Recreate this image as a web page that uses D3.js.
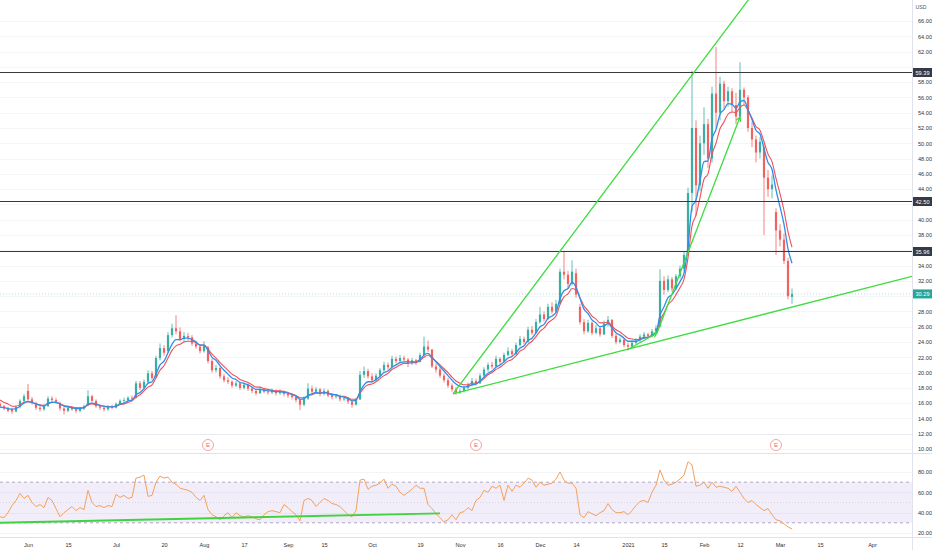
<!DOCTYPE html>
<html><head><meta charset="utf-8">
<script src="https://cdn.jsdelivr.net/npm/d3@7"></script>
<style>body{margin:0;background:#fff;} svg{display:block;font-family:"Liberation Sans",Arial,sans-serif;}</style>
</head><body><svg id="c" width="932" height="550"></svg>
<script>
// ---- data (daily candles, index 0 = 1 Jun 2020, first candle index -7) ----
const firstIndex = -7;
const opens = [
15.9,15.6,15.3,15.1,14.9,15.5,16.3,17.6,16.5,16.0,
15.4,15.2,15.6,16.6,16.4,16.0,15.3,15.0,15.4,15.2,
15.0,15.3,15.7,16.9,16.3,15.6,15.4,15.2,15.5,15.4,
15.9,16.3,16.4,16.7,16.7,18.6,18.0,18.8,19.9,19.4,
21.9,23.2,22.8,24.9,25.8,25.4,24.4,24.8,24.6,23.8,
23.4,22.8,23.3,21.5,20.3,20.6,19.5,19.0,18.8,18.3,
18.6,18.0,18.4,17.9,17.6,17.3,17.8,17.5,17.4,17.6,
17.3,17.5,17.2,17.0,16.8,16.4,15.8,16.6,17.9,17.5,
17.8,17.2,17.6,17.0,16.8,16.9,16.5,16.6,16.2,15.8,
16.5,19.7,20.2,19.5,19.0,19.6,20.3,21.0,20.7,21.8,
21.5,21.9,21.7,21.2,21.6,21.4,22.3,23.4,23.0,20.8,
20.4,19.6,19.0,18.3,17.8,17.4,17.6,18.0,18.4,18.9,
18.6,19.6,20.4,21.0,20.8,21.8,21.4,22.3,22.8,22.4,
23.6,24.4,24.0,25.6,25.2,26.6,27.6,27.0,28.6,28.0,
29.0,33.2,32.8,31.6,33.0,28.6,26.6,25.4,26.5,25.2,
25.8,25.0,26.4,26.9,24.8,24.0,24.3,23.6,23.4,23.9,
24.2,24.7,25.0,24.8,25.4,26.0,32.0,30.8,32.2,31.0,
32.6,33.6,35.6,43.5,52.0,44.5,50.0,52.5,48.0,56.5,
54.0,57.8,55.5,56.8,55.0,53.5,57.0,56.0,52.0,50.5,
48.8,49.5,45.5,44.0,41.0,38.6,37.4,34.6,29.9];
const highs = [
16.1,15.8,15.5,15.4,15.7,16.5,17.2,18.5,16.8,16.2,
15.6,15.9,16.9,16.9,16.7,16.2,15.5,15.7,15.6,15.4,
15.5,15.8,17.7,17.1,16.5,15.8,15.6,15.7,15.8,16.1,
16.5,16.7,16.9,17.0,18.9,18.9,19.1,20.3,20.2,22.2,
23.8,23.6,25.3,26.4,27.5,25.9,25.3,25.2,24.9,24.2,
23.7,24.1,23.5,21.8,21.0,20.8,19.8,19.4,19.0,18.9,
18.8,18.7,18.6,18.1,17.8,18.1,18.0,17.8,17.9,17.8,
17.8,17.7,17.4,17.3,17.0,16.6,16.9,18.6,18.3,18.1,
18.0,17.9,17.8,17.3,17.2,17.1,16.9,16.8,16.4,16.7,
20.2,20.8,20.5,19.9,19.9,20.6,21.4,21.3,22.2,22.1,
22.3,22.2,21.9,21.9,21.8,22.6,24.7,24.2,23.1,21.2,
20.7,19.9,19.3,18.6,18.1,17.9,18.3,18.7,19.3,19.2,
19.9,20.7,21.3,21.4,22.2,22.0,22.6,23.3,23.1,23.9,
24.8,24.7,26.0,26.1,27.0,28.6,28.0,29.0,29.2,29.5,
33.6,35.8,33.3,34.7,33.6,29.0,27.0,26.9,26.7,26.2,
26.0,26.8,27.4,27.0,25.1,24.6,24.5,23.9,24.2,24.5,
25.0,25.3,25.2,25.7,26.2,33.5,32.6,32.7,32.5,32.9,
34.0,35.9,44.2,59.5,53.0,51.0,54.7,53.2,57.4,62.6,
58.7,58.2,57.4,57.2,56.6,60.6,57.3,56.3,52.8,51.0,
50.8,50.0,46.5,45.8,41.5,39.4,38.2,35.0,31.0];
const lows = [
15.4,15.1,14.8,14.6,14.8,15.3,16.1,16.3,15.8,15.1,
14.9,15.0,15.5,16.1,15.9,15.0,14.5,14.8,15.0,14.7,
14.8,15.1,15.6,16.1,15.4,15.1,14.9,15.0,15.2,15.3,
15.8,16.0,16.2,16.3,16.6,17.7,17.8,18.6,19.0,19.3,
21.6,22.2,22.6,24.6,25.0,24.1,24.0,24.2,23.5,23.1,
22.5,22.6,21.2,20.0,20.0,19.2,18.7,18.5,18.0,18.1,
17.7,17.8,17.6,17.3,17.0,17.2,17.3,17.1,17.2,17.0,
17.1,16.9,16.7,16.5,16.1,15.1,15.6,16.4,17.2,17.3,
16.9,17.0,16.8,16.5,16.6,16.2,16.3,15.9,15.4,15.7,
16.4,19.3,19.2,18.7,18.8,19.4,20.1,20.4,20.6,21.2,
21.3,21.4,20.7,21.0,21.0,21.3,22.1,22.7,20.6,20.0,
19.3,18.7,18.0,17.5,17.1,17.2,17.4,17.8,18.2,18.3,
18.5,19.4,20.1,20.5,20.7,21.0,21.3,22.1,22.1,22.3,
23.4,23.7,23.9,24.9,25.1,26.4,26.7,26.9,27.7,27.8,
28.9,32.2,31.0,31.4,29.8,26.3,25.0,25.2,24.9,25.0,
24.7,24.9,26.0,24.5,23.7,23.8,23.3,22.9,23.2,23.7,
24.0,24.4,24.5,24.6,25.2,25.9,30.2,30.5,30.6,30.8,
32.3,33.3,35.4,41.0,40.5,43.8,48.5,46.8,47.5,52.0,
53.0,54.5,54.8,54.0,52.5,53.0,55.0,51.5,49.5,47.5,
48.0,38.0,43.0,42.8,35.4,36.5,34.2,29.6,29.0];
const closes = [
15.6,15.3,15.0,14.9,15.5,16.3,16.9,16.5,16.0,15.4,
15.2,15.6,16.6,16.4,16.2,15.3,15.0,15.4,15.2,15.0,
15.3,15.6,16.9,16.3,15.6,15.4,15.2,15.5,15.4,15.9,
16.3,16.4,16.7,16.6,18.6,18.0,18.8,19.9,19.3,21.9,
23.2,22.6,24.9,25.8,25.4,24.4,24.8,24.6,23.8,23.4,
22.8,23.6,21.5,20.3,20.6,19.5,19.0,18.8,18.3,18.6,
18.0,18.4,17.9,17.6,17.3,17.8,17.5,17.4,17.6,17.3,
17.5,17.2,17.0,16.8,16.4,15.8,16.6,17.9,17.5,17.8,
17.2,17.6,17.0,16.8,16.9,16.5,16.6,16.2,15.8,16.5,
19.7,20.2,19.5,19.0,19.6,20.3,21.0,20.7,21.8,21.5,
21.9,21.7,21.2,21.6,21.4,22.3,23.4,23.0,20.8,20.4,
19.6,19.0,18.3,17.8,17.4,17.6,18.0,18.4,18.9,18.6,
19.6,20.4,21.0,20.8,21.8,21.4,22.3,22.8,22.4,23.6,
24.4,24.0,25.6,25.2,26.6,27.6,27.0,28.6,28.0,29.0,
33.2,32.8,31.6,33.2,30.2,26.6,25.4,26.5,25.2,25.8,
25.0,26.4,26.9,24.8,24.0,24.3,23.6,23.4,23.9,24.2,
24.7,25.0,24.8,25.4,25.8,32.0,30.8,32.2,31.0,32.6,
33.6,35.4,43.5,52.0,44.5,50.0,52.5,48.0,56.5,54.0,
57.8,55.5,56.8,55.0,53.5,57.0,56.0,52.0,50.5,48.8,
50.2,45.5,44.0,44.6,38.6,37.4,34.6,30.0,30.29];
// fast (blue) and slow (red) moving-average lines
const fastMA = [
15.5,15.4,15.3,15.2,15.3,15.6,16.0,16.2,16.1,15.9,
15.7,15.6,16.0,16.1,16.1,15.9,15.6,15.5,15.4,15.3,
15.3,15.4,15.9,16.0,15.9,15.7,15.6,15.5,15.5,15.6,
15.9,16.0,16.3,16.4,17.1,17.4,17.9,18.6,18.8,19.8,
21.0,21.5,22.6,23.7,24.3,24.3,24.5,24.5,24.3,24.0,
23.6,23.6,22.9,22.0,21.6,20.9,20.3,19.8,19.3,19.1,
18.7,18.6,18.4,18.1,17.8,17.8,17.7,17.6,17.6,17.5,
17.5,17.4,17.3,17.1,16.9,16.5,16.6,17.0,17.2,17.4,
17.3,17.4,17.3,17.1,17.1,16.9,16.8,16.6,16.3,16.4,
17.5,18.4,18.8,18.8,19.1,19.5,20.0,20.2,20.7,21.0,
21.3,21.4,21.4,21.4,21.4,21.7,22.3,22.5,22.0,21.4,
20.8,20.2,19.6,19.0,18.5,18.2,18.1,18.2,18.4,18.5,
18.9,19.4,19.9,20.2,20.7,21.0,21.4,21.9,22.1,22.6,
23.2,23.5,24.2,24.5,25.2,26.0,26.3,27.1,27.4,27.9,
29.7,30.7,31.0,31.8,31.2,29.7,28.3,27.7,26.9,26.5,
26.0,26.1,26.4,25.9,25.2,24.9,24.5,24.1,24.1,24.1,
24.3,24.5,24.6,24.9,25.2,27.5,28.6,29.8,30.2,31.0,
31.9,33.0,36.5,41.7,42.6,45.1,47.6,47.7,50.6,51.8,
53.8,54.4,55.2,55.1,54.6,55.4,55.6,54.4,53.1,51.7,
51.2,49.3,47.5,46.6,43.9,41.7,39.4,36.2,34.3];
const slowMA = [
16.4,16.1,15.9,15.6,15.6,15.8,16.1,16.2,16.1,15.9,
15.8,15.7,15.9,16.1,16.1,15.9,15.7,15.6,15.5,15.4,
15.4,15.4,15.8,15.9,15.8,15.7,15.6,15.6,15.5,15.6,
15.8,15.9,16.1,16.3,16.8,17.1,17.6,18.1,18.4,19.3,
20.3,20.9,21.9,22.9,23.5,23.7,24.0,24.1,24.1,23.9,
23.6,23.6,23.1,22.4,21.9,21.3,20.8,20.3,19.8,19.5,
19.1,18.9,18.7,18.4,18.1,18.1,17.9,17.8,17.7,17.6,
17.6,17.5,17.4,17.2,17.0,16.7,16.7,17.0,17.1,17.3,
17.3,17.4,17.3,17.2,17.1,16.9,16.9,16.7,16.5,16.5,
17.3,18.0,18.4,18.5,18.8,19.2,19.6,19.9,20.4,20.7,
21.0,21.2,21.2,21.3,21.3,21.6,22.0,22.3,21.9,21.5,
21.0,20.5,20.0,19.4,18.9,18.6,18.4,18.4,18.6,18.6,
18.8,19.2,19.7,20.0,20.4,20.7,21.1,21.5,21.7,22.2,
22.8,23.1,23.7,24.1,24.7,25.4,25.8,26.5,26.9,27.4,
28.9,29.9,30.3,31.0,30.8,29.8,28.7,28.1,27.4,27.0,
26.5,26.5,26.6,26.1,25.6,25.3,24.9,24.5,24.4,24.3,
24.4,24.6,24.6,24.8,25.1,26.8,27.8,28.9,29.4,30.2,
31.1,32.2,35.0,39.2,40.6,42.9,45.3,46.0,48.6,50.0,
51.9,52.8,53.8,54.1,54.0,54.7,55.0,54.3,53.3,52.2,
51.7,50.2,48.6,47.6,45.4,43.4,41.2,38.4,36.4];
const rsi = [
36,35,40,47,52,59,54,57,50,46,
48,45,55,52,44,36,40,43,46,42,
45,43,62,50,46,47,45,47,46,58,
55,57,54,55,74,75,77,56,57,70,
76,74,75,70,68,64,63,62,60,55,
52,57,43,38,36,33,37,40,35,40,
37,36,37,36,34,33,38,41,42,41,
40,48,45,41,38,32,52,54,52,46,
50,54,52,49,48,46,42,38,36,42,
72,73,63,66,67,69,73,64,68,66,
60,57,60,63,67,64,64,48,44,39,
35,31,33,38,33,40,41,45,42,52,
55,62,60,66,64,67,52,67,61,67,
65,69,74,72,65,70,67,68,69,73,
80,72,69,69,64,38,35,41,39,37,
40,42,49,43,40,40,41,38,42,47,
51,52,50,60,67,82,72,67,68,70,
73,77,90,87,66,67,70,64,70,65,
66,65,64,61,66,60,54,50,52,48,
45,42,44,38,33,32,29,26,24];
const priceTicks = [10,12,14,16,18,20,22,24,26,28,30,32,34,36,38,40,42,44,46,48,50,52,54,56,58,60,62,64,66];
const rsiTicks = [20,40,60,80];
const timeTickIdx = [0,10,22,34,44,54,65,74,86,98,108,118,128,137,150,159,169,178,188,198,211];
const timeTickLabels = ["Jun","15","Jul","20","Aug","17","Sep","15","Oct","19","Nov","16","Dec","14","2021","15","Feb","12","Mar","15","Apr"];
const levels = [59.39, 42.50, 35.96];
const lastPrice = 30.29;
const earningsIdx = [45, 112, 187];
const trendUpper = [[106.25,17.2],[186,72.9]];
const trendLower = [[106.25,17.2],[221,32.6]];
const trendSteep = [[149.75,22.95],[157.25,25.18],[178,53.44]];
const rsiTrend = [[-7,30.1],[103,39.4]];

// ---- drawing ----
const svg = d3.select("#c");
const paneR = 912, mainBottom = 453, rsiBottom = 537;
const x = d3.scaleLinear().domain([0,211]).range([28,872]);
const y = d3.scaleLinear().domain([10,66]).range([449,21]);
const yr = d3.scaleLinear().domain([20,80]).range([533,472]);
const candles = closes.map((c,k)=>({i:k+firstIndex,o:opens[k],h:highs[k],l:lows[k],c:c}));

const defs = svg.append("defs");
defs.append("clipPath").attr("id","cm").append("rect").attr("x",0).attr("y",0).attr("width",paneR).attr("height",mainBottom);
defs.append("clipPath").attr("id","cr").append("rect").attr("x",0).attr("y",mainBottom).attr("width",paneR).attr("height",rsiBottom-mainBottom);

// grid
const grid = svg.append("g");
grid.selectAll("line.h").data(priceTicks).join("line")
  .attr("x1",0).attr("x2",paneR).attr("y1",d=>Math.round(y(d))+0.5).attr("y2",d=>Math.round(y(d))+0.5)
  .attr("stroke","#f4f5f8").attr("stroke-width",1);
grid.selectAll("line.r").data(rsiTicks).join("line")
  .attr("x1",0).attr("x2",paneR).attr("y1",d=>Math.round(yr(d))+0.5).attr("y2",d=>Math.round(yr(d))+0.5)
  .attr("stroke","#f3f4f7");
svg.append("line").attr("x1",0).attr("x2",paneR).attr("y1",Math.round(y(12))+0.5).attr("y2",Math.round(y(12))+0.5).attr("stroke","#e8eaef");

// pane borders
svg.append("line").attr("x1",0).attr("x2",932).attr("y1",mainBottom+0.5).attr("y2",mainBottom+0.5).attr("stroke","#e0e3eb");
svg.append("line").attr("x1",0).attr("x2",932).attr("y1",rsiBottom+0.5).attr("y2",rsiBottom+0.5).attr("stroke","#e0e3eb");
svg.append("line").attr("x1",paneR+0.5).attr("x2",paneR+0.5).attr("y1",0).attr("y2",550).attr("stroke","#e0e3eb");

const main = svg.append("g").attr("clip-path","url(#cm)");
// last price line
main.append("line").attr("x1",0).attr("x2",paneR).attr("y1",y(lastPrice)).attr("y2",y(lastPrice))
  .attr("stroke","#26a69a").attr("stroke-opacity",0.35).attr("stroke-dasharray","1,2");

// candles
const bw = 2.2;
const cg = main.append("g").attr("opacity",0.9);
cg.selectAll("line").data(candles).join("line")
  .attr("x1",d=>x(d.i)).attr("x2",d=>x(d.i)).attr("y1",d=>y(d.h)).attr("y2",d=>y(d.l))
  .attr("stroke",d=>d.c>=d.o?"#26a69a":"#ef5350").attr("stroke-width",0.8);
cg.selectAll("rect").data(candles).join("rect")
  .attr("x",d=>x(d.i)-bw/2).attr("width",bw)
  .attr("y",d=>y(Math.max(d.o,d.c))).attr("height",d=>Math.max(0.8,Math.abs(y(d.o)-y(d.c))))
  .attr("fill",d=>d.c>=d.o?"#26a69a":"#ef5350");

// moving averages
const maLine = (arr)=>d3.line().x((d,k)=>x(k+firstIndex)).y(d=>y(d)).curve(d3.curveMonotoneX)(arr);
main.append("path").attr("d",maLine(slowMA)).attr("fill","none").attr("stroke","#f0505a").attr("stroke-width",1.1);
main.append("path").attr("d",maLine(fastMA)).attr("fill","none").attr("stroke","#2f8ee8").attr("stroke-width",1.3);

// horizontal levels
main.selectAll("line.lv").data(levels).join("line")
  .attr("x1",0).attr("x2",paneR).attr("y1",d=>Math.round(y(d))+0.5).attr("y2",d=>Math.round(y(d))+0.5)
  .attr("stroke","#3a3a3a").attr("stroke-width",1);

// trend lines
const tl = d3.line().x(d=>x(d[0])).y(d=>y(d[1]));
[trendUpper,trendLower,trendSteep].forEach(t=>{
  main.append("path").attr("d",tl(t)).attr("fill","none").attr("stroke","#3fdc3f").attr("stroke-width",1.3);
});
// small arrow-head markers on the steep path (at its bend and its end)
[[trendSteep[0],trendSteep[1]],[trendSteep[1],trendSteep[2]]].forEach(([a,b])=>{
  const bx=x(b[0]), by=y(b[1]);
  const ang=Math.atan2(by-y(a[1]), bx-x(a[0]));
  const L=5, sp=0.5;
  const p1=[bx-L*Math.cos(ang-sp), by-L*Math.sin(ang-sp)];
  const p2=[bx-L*Math.cos(ang+sp), by-L*Math.sin(ang+sp)];
  main.append("path").attr("d",`M${p1[0]},${p1[1]}L${bx},${by}L${p2[0]},${p2[1]}`)
    .attr("fill","none").attr("stroke","#3fdc3f").attr("stroke-width",1.2);
});

// earnings markers
const eg = svg.append("g");
earningsIdx.forEach(i=>{
  eg.append("circle").attr("cx",x(i)).attr("cy",445).attr("r",5.5).attr("fill","#fff").attr("stroke","#f29a9a").attr("stroke-width",0.9);
  eg.append("text").attr("x",x(i)).attr("y",447.2).attr("text-anchor","middle").attr("font-size",6).attr("fill","#e86a6a").text("E");
});

// RSI pane
const rp = svg.append("g").attr("clip-path","url(#cr)");
rp.append("rect").attr("x",0).attr("width",paneR).attr("y",yr(70)).attr("height",yr(30)-yr(70)).attr("fill","#7e57c2").attr("fill-opacity",0.1);
[70,30].forEach(v=>{
  rp.append("line").attr("x1",0).attr("x2",paneR).attr("y1",yr(v)).attr("y2",yr(v))
    .attr("stroke","#9d93b5").attr("stroke-width",0.8).attr("stroke-dasharray","3,3");
});
rp.append("line").attr("x1",0).attr("x2",paneR).attr("y1",yr(50)).attr("y2",yr(50))
  .attr("stroke","#c9c2da").attr("stroke-width",0.6).attr("stroke-dasharray","1,2");
rp.append("path").attr("d",d3.line().x((d,k)=>x(k+firstIndex)).y(d=>yr(d))(rsi))
  .attr("fill","none").attr("stroke","#f5a05c").attr("stroke-width",1);
rp.append("path").attr("d",d3.line().x(d=>x(d[0])).y(d=>yr(d[1]))(rsiTrend))
  .attr("fill","none").attr("stroke","#3fd33f").attr("stroke-width",1.8);

// axes (tick labels hidden where a price label box covers them, as in the reference)
const covered = v => levels.concat([lastPrice]).some(l => Math.abs(y(l)-y(v)) < 8);
const ya = svg.append("g").attr("transform",`translate(${paneR+3},0)`)
  .call(d3.axisRight(y).tickValues(priceTicks.filter(v=>!covered(v))).tickFormat(d3.format(".2f")).tickSize(0));
ya.select(".domain").remove();
ya.selectAll("text").attr("font-size",5.6).attr("fill","#333").attr("font-family","Liberation Sans, Arial");
const ra = svg.append("g").attr("transform",`translate(${paneR+3},0)`)
  .call(d3.axisRight(yr).tickValues(rsiTicks).tickFormat(d3.format(".2f")).tickSize(0));
ra.select(".domain").remove();
ra.selectAll("text").attr("font-size",5.6).attr("fill","#333").attr("font-family","Liberation Sans, Arial");
const xa = svg.append("g").attr("transform",`translate(0,${rsiBottom+3})`)
  .call(d3.axisBottom(x).tickValues(timeTickIdx).tickFormat((d,k)=>timeTickLabels[k]).tickSize(0));
xa.select(".domain").remove();
xa.selectAll("text").attr("font-size",5.6).attr("fill","#333").attr("font-family","Liberation Sans, Arial");

svg.append("text").attr("x",921).attr("y",9).attr("text-anchor","middle").attr("font-size",5.2).attr("fill","#555").text("USD");

// price labels on axis
const lab = svg.append("g");
levels.forEach(v=>{
  const yy = Math.round(y(v))+0.5;
  lab.append("rect").attr("x",paneR+1).attr("y",yy-4.5).attr("width",19).attr("height",9).attr("fill","#363a45");
  lab.append("text").attr("x",paneR+10.5).attr("y",yy+2).attr("text-anchor","middle").attr("font-size",5.6).attr("fill","#fff").text(d3.format(".2f")(v));
});
{
  const yy = y(lastPrice);
  lab.append("rect").attr("x",paneR+1).attr("y",yy-4.5).attr("width",19).attr("height",9).attr("fill","#26a69a");
  lab.append("text").attr("x",paneR+10.5).attr("y",yy+2).attr("text-anchor","middle").attr("font-size",5.6).attr("fill","#fff").text(d3.format(".2f")(lastPrice));
}
</script></body></html>
